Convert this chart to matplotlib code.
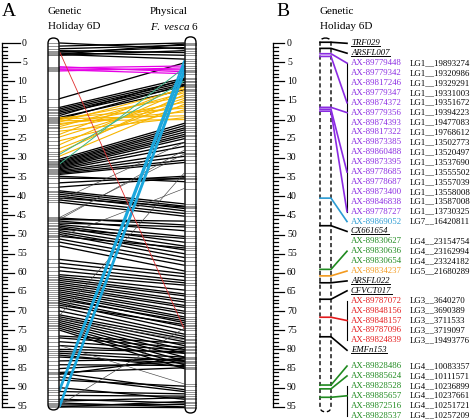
import matplotlib
matplotlib.use("Agg")
import matplotlib.pyplot as plt
from matplotlib.patches import FancyBboxPatch

plt.rcParams['font.family'] = ['Liberation Serif', 'DejaVu Serif']
plt.rcParams['mathtext.fontset'] = 'custom'
plt.rcParams['mathtext.it'] = 'Liberation Serif:italic'
plt.rcParams['mathtext.rm'] = 'Liberation Serif'

# ---- panel A data: genetic position (left, cM) -> physical position (right, scaled)
black_left = [0.0, 0.8, 1.5, 2.0, 2.3, 2.6, 2.9, 3.0, 3.2,
              14.5,
              16.8, 17.2, 17.6, 18.0, 18.4, 18.9, 19.4, 19.8,
              30.3, 30.7, 31.0, 31.3, 31.6, 31.9, 32.2, 32.5, 32.8, 33.1, 33.4, 33.7, 34.0, 34.3,
              34.8, 35.3, 36.5, 37.6,
              38.6, 39.0, 39.5, 40.0, 40.5, 41.0, 41.6,
              45.7, 46.1, 46.5, 47.0, 47.4, 47.8, 48.2, 48.6, 49.0, 49.5, 50.0, 50.5, 51.2, 52.0, 53.0,
              56.5, 57.5, 58.5, 59.5, 60.5, 61.0, 61.5,
              62.0, 62.5, 63.0, 63.5, 64.0, 64.5, 65.0, 65.5, 66.0, 66.5, 67.0, 67.5, 68.0, 68.5, 69.0,
              70.0, 71.0, 71.5, 72.0, 72.5, 73.0, 73.5, 74.0, 74.5, 75.0,
              76.5, 77.0, 78.0, 79.0, 80.0, 80.5, 81.0, 81.5, 82.0, 83.0, 84.0, 85.0, 86.0, 86.5,
              86.2, 87.2, 88.0,
              90.0, 91.0, 92.0, 93.0, 93.5, 94.0, 94.5, 95.0, 95.0]
black_right = [1.5, 0.0, 0.6, 2.5, 1.2, 3.2, 0.3, 4.2, 2.0,
               5.2,
               9.2, 9.8, 10.3, 10.8, 11.3, 9.5, 12.2, 11.0,
               21.0, 21.6, 22.2, 22.7, 23.3, 23.9, 24.4, 25.0, 26.0, 27.0, 28.6, 29.6, 30.6, 31.2,
               36.2, 35.5, 34.8, 35.2,
               42.0, 42.6, 43.2, 43.8, 42.8, 44.5, 45.2,
               47.5, 46.5, 49.0, 48.0, 50.5, 52.0, 53.0, 51.0, 54.0, 55.0, 56.0, 53.5, 57.0, 58.0, 59.5,
               60.2, 61.0, 62.0, 62.6, 63.2, 64.5, 65.5,
               66.0, 67.0, 67.6, 68.5, 69.0, 70.0, 70.6, 71.5, 72.0, 73.0, 72.5, 74.0, 75.0, 73.5, 76.0,
               76.6, 77.2, 78.0, 79.0, 80.0, 81.0, 82.0, 83.0, 84.0, 85.0,
               78.4, 79.5, 80.2, 81.0, 80.6, 82.0, 83.0, 84.5, 83.6, 82.5, 84.2, 83.2, 84.8, 82.2,
               90.5, 91.0, 89.6,
               93.0, 91.6, 92.2, 94.0, 92.6, 95.0, 94.4, 95.2, 93.6]
thin_left = [45.5, 46.0, 50.6, 41.0, 71.0, 94.5, 79.0, 72.0]
thin_right = [29.0, 28.0, 38.0, 26.0, 34.0, 74.5, 89.0, 77.5]
orange_left = [19.5, 19.8, 20.0, 20.3, 20.6, 21.0, 21.3, 21.8, 22.3, 23.0, 23.8, 24.5, 25.5, 26.5, 27.5, 28.5, 29.5]
orange_right = [17.0, 19.0, 14.0, 20.0, 12.0, 18.0, 15.5, 13.0, 16.5, 19.5, 11.5, 14.5, 17.5, 12.5, 15.0, 13.5, 16.0]
magenta_left = [6.2, 6.5, 6.8, 7.0, 7.3]
magenta_right = [7.5, 6.0, 7.0, 8.0, 6.5]
teal_left = [31.5, 29.0]
teal_right = [6.5, 10.0]
cyan_left = [90.0, 90.6, 94.3, 94.8]
cyan_right = [4.8, 6.0, 7.2, 8.0]
red_left = [2.5]
red_right = [74.5]

# ---- panel B data
b_names = ['TRF029', 'ARSFL007', 'AX-89779448', 'AX-89779342', 'AX-89817246', 'AX-89779347',
           'AX-89874372', 'AX-89779356', 'AX-89874393', 'AX-89817322', 'AX-89873385', 'AX-89860488',
           'AX-89873395', 'AX-89778685', 'AX-89778687', 'AX-89873400', 'AX-89846838', 'AX-89778727',
           'AX-89869052', 'CX661654', 'AX-89830627', 'AX-89830636', 'AX-89830654', 'AX-89834237',
           'ARSFL022', 'CFVCT017', 'AX-89787072', 'AX-89848156', 'AX-89848157', 'AX-89787096',
           'AX-89824839', 'EMFn153', 'AX-89828486', 'AX-89885624', 'AX-89828528', 'AX-89885657',
           'AX-89872516', 'AX-89828537']
b_phys = ['', '', 'LG1__19893274', 'LG1__19320986', 'LG1__19329291', 'LG1__19331003',
          'LG1__19351672', 'LG1__19394223', 'LG1__19477083', 'LG1__19768612', 'LG1__13502773',
          'LG1__13520497', 'LG1__13537690', 'LG1__13555502', 'LG1__13557039', 'LG1__13558008',
          'LG1__13587008', 'LG1__13730325', 'LG7__16420811', '', 'LG4__23154754', 'LG4__23162994',
          'LG4__23324182', 'LG5__21680289', '', '', 'LG3__3640270', 'LG3__3690389', 'LG3__3711533',
          'LG3__3719097', 'LG3__19493776', '', 'LG4__10083357', 'LG4__10111571', 'LG4__10236899',
          'LG4__10237661', 'LG4__10251721', 'LG4__10257209']
b_color = ['k', 'k'] + ['purple'] * 16 + ['blue', 'k'] + ['green'] * 3 + ['orange', 'k', 'k'] + \
          ['red'] * 5 + ['k'] + ['green'] * 6
# links: genetic position on the bar -> label row
b_link_pos = [-0.2, 1.4, 2.8, 3.5, 16.8, 17.3, 17.8, 40.5, 47.7, 59.1, 60.8, 62.6, 66.9, 71.6, 76.7, 89.3, 90.3, 92.5]
b_link_row = [0, 1, 2, 6, 7, 13, 17, 18, 19, 21, 23, 24, 25, 28, 31, 32, 33, 35]
b_brackets = [(2, 17), (26, 30), (34, 37)]

palette = {'k': 'black', 'purple': '#8a2be2', 'blue': '#2b9bd3', 'green': '#1f8a1f',
           'orange': '#f39a1e', 'red': '#e41a1c'}

fig = plt.figure(figsize=(4.72, 4.2), dpi=100)
ax = fig.add_axes([0, 0, 1, 1])
ax.set_xlim(0, 472)
ax.set_ylim(98.43, -11.23)
ax.axis('off')
PX = 3.83  # pixels per cM


def scale(x0, right_labels):
    ax.plot([x0, x0], [0, 95], color='k', lw=0.9)
    for v in range(0, 96):
        if v % 5 == 0:
            if right_labels:
                ax.plot([x0, x0 + 11], [v, v], color='k', lw=0.9)
                ax.text(x0 + 14, v, str(v), fontsize=7, ha='left', va='center')
            else:
                ax.plot([x0, x0 + (18 if v < 10 else 12)], [v, v], color='k', lw=0.9)
                ax.text(27, v, str(v), fontsize=7, ha='right', va='center')
        else:
            ax.plot([x0, x0 + 5], [v, v], color='k', lw=0.9)


def chrom(x0, x1, y0, y1, bands, ls='-'):
    w = x1 - x0
    p = FancyBboxPatch((x0, y0), w, y1 - y0, boxstyle='round,pad=0,rounding_size=%f' % (w / 2),
                       mutation_aspect=1 / PX, fc='white', ec='none', zorder=3)
    ax.add_patch(p)
    for b in bands:
        ax.plot([x0, x1], [b, b], color='#777777', lw=0.55, zorder=4)
    p2 = FancyBboxPatch((x0, y0), w, y1 - y0, boxstyle='round,pad=0,rounding_size=%f' % (w / 2),
                        mutation_aspect=1 / PX, fc='none', ec='black', lw=1.0, ls=ls, zorder=5)
    ax.add_patch(p2)


# ---- panel A
scale(2, False)
XL, XR = 60, 184
for l, r in zip(black_left, black_right):
    ax.plot([XL, XR], [l, r], color='black', lw=0.95, zorder=1)
for l, r in zip(thin_left, thin_right):
    ax.plot([XL, XR], [l, r], color='#444444', lw=0.45, zorder=1)
for l, r in zip(orange_left, orange_right):
    ax.plot([XL, XR], [l, r], color='#f7b500', lw=0.8, zorder=2)
for l, r in zip(magenta_left, magenta_right):
    ax.plot([XL, XR], [l, r], color='#e600e6', lw=0.9, zorder=2)
for l, r in zip(teal_left, teal_right):
    ax.plot([XL, XR], [l, r], color='#3cb48c', lw=0.7, zorder=2)
for l, r in zip(cyan_left, cyan_right):
    ax.plot([XL, XR], [l, r], color='#1aa7dd', lw=1.4, zorder=2)
for l, r in zip(red_left, red_right):
    ax.plot([XL, XR], [l, r], color='#e03030', lw=0.6, zorder=2)

left_bands = sorted(set(black_left + orange_left + magenta_left + teal_left + cyan_left + thin_left))
right_bands = sorted(set(black_right + orange_right + magenta_right + teal_right + cyan_right + thin_right))
chrom(48, 59, -1.3, 95.8, left_bands)
chrom(185, 196, -1.6, 96.6, right_bands)

ax.text(2, -8.3, 'A', fontsize=14, ha='left', va='center')
ax.text(48, -8.3, 'Genetic', fontsize=8, ha='left', va='center')
ax.text(48, -4.4, 'Holiday 6D', fontsize=8, ha='left', va='center')
ax.text(150, -8.3, 'Physical', fontsize=8, ha='left', va='center')
ax.text(150, -4.4, r'$\it{F.\ vesca}$ 6', fontsize=8, ha='left', va='center')

# ---- panel B
scale(273, True)
ax.text(276, -8.3, 'B', fontsize=14, ha='left', va='center')
ax.text(320, -8.3, 'Genetic', fontsize=8, ha='left', va='center')
ax.text(320, -4.4, 'Holiday 6D', fontsize=8, ha='left', va='center')
chrom(320, 331, -1.3, 96.3, [], ls=(0, (3, 2)))


def row_y(i):
    return 0.08 + i * 2.585 + (1.55 if i >= 32 else 0)


for g, r in zip(b_link_pos, b_link_row):
    c = palette[b_color[r]]
    ax.plot([320, 331, 347], [g, g, row_y(r)], color=c, lw=1.2, zorder=6)
for a, b in b_brackets:
    ax.plot([347, 347], [row_y(a), row_y(b)], color='black', lw=0.8)

underline = []
for i, name in enumerate(b_names):
    c = palette[b_color[i]]
    if b_phys[i] == '':
        t = ax.text(351, row_y(i), name, fontsize=6.3, ha='left', va='center', color=c, style='italic')
        underline.append(t)
    else:
        ax.text(351, row_y(i), name, fontsize=6.3, ha='left', va='center', color=c)
        ax.text(410, row_y(i), b_phys[i], fontsize=6.3, ha='left', va='center', color='black')

fig.canvas.draw()
inv = ax.transData.inverted()
for t in underline:
    bb = t.get_window_extent()
    (x0, y0), (x1, _) = inv.transform([(bb.x0, bb.y0), (bb.x1, bb.y0)])
    ax.plot([x0, x1], [y0 - 0.3, y0 - 0.3], color='black', lw=0.7)

fig.savefig('out.png', dpi=100)
